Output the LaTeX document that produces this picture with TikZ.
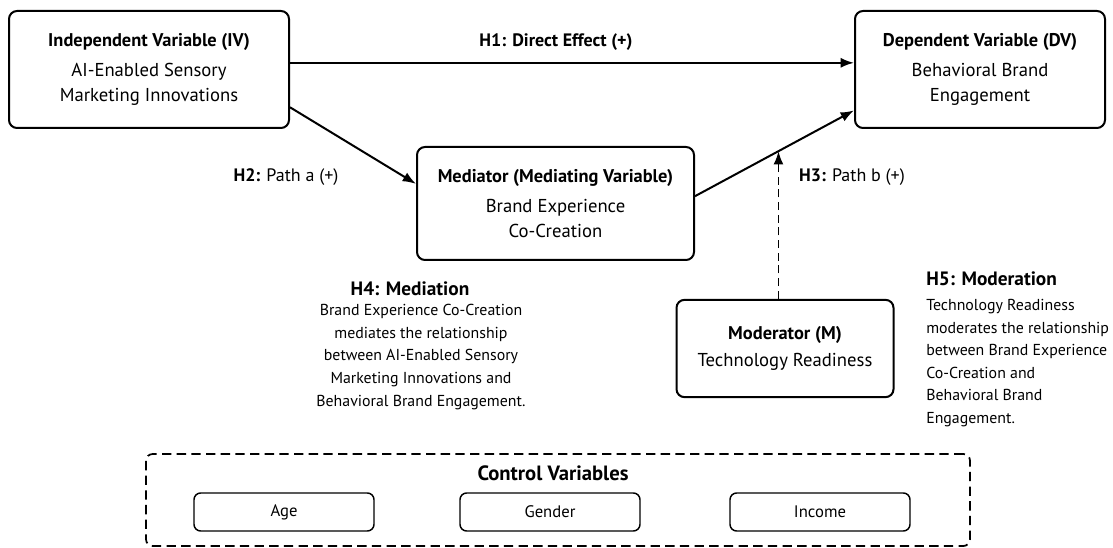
\documentclass[tikz,border=0pt]{standalone}
\usepackage{fontspec}
\setmainfont{PT Sans}
\usepackage{tikz}
\usetikzlibrary{arrows.meta}
\usepackage{xcolor}

\begin{document}
\begin{tikzpicture}[x=0.75pt,y=-0.75pt,
    var/.style={draw,line width=1.5pt,rounded corners=6pt,align=center,inner sep=0pt,
        font=\fontsize{14}{18.75}\selectfont},
    ctrl/.style={draw,line width=1.1pt,rounded corners=5pt,minimum width=135pt,minimum height=28.5pt,
        inner sep=0pt,font=\fontsize{12.5}{14}\selectfont},
    hlab/.style={font=\fontsize{13.5}{16}\selectfont},
    note/.style={font=\fontsize{11.9}{16.9}\selectfont,inner sep=0pt},
    path/.style={-{Latex[length=10pt,width=7.5pt]},line width=1.5pt}]

    \useasboundingbox (0,0) rectangle (1113,548);

    % constructs
    \node[var,minimum width=210pt,minimum height=87.75pt] (IV) at (149,69.5)
        {\fontsize{13.8}{16}\selectfont\bfseries Independent Variable (IV)\\[4pt] AI-Enabled Sensory\\ Marketing Innovations};
    \node[var,minimum width=187.5pt,minimum height=87.75pt] (DV) at (980,69.5)
        {\fontsize{13.8}{16}\selectfont\bfseries Dependent Variable (DV)\\[4pt] Behavioral Brand\\ Engagement};
    \node[var,minimum width=207.75pt,minimum height=84.75pt] (Me) at (555.5,203.5)
        {\fontsize{13.8}{16}\selectfont\bfseries Mediator (Mediating Variable)\\[4pt] Brand Experience\\ Co-Creation};
    \node[var,minimum width=162.75pt,minimum height=73pt] (Mo) at (785,348.5)
        {\fontsize{13.8}{16}\selectfont\bfseries Moderator (M)\\[1pt] Technology Readiness};

    % control variables
    \node[draw,line width=1.3pt,dash pattern=on 7pt off 4pt,rounded corners=5pt,
        minimum width=618pt,minimum height=69pt] (CoVa) at (558,500) {};
    \node[font=\fontsize{15.5}{17}\selectfont\bfseries] (CoTi) at (553,473) {Control Variables};
    \node[ctrl] (Ag) at (284,512) {Age};
    \node[ctrl] (Ge) at (550,512) {Gender};
    \node[ctrl] (In) at (820,512) {Income};

    % hypotheses labels
    \node[hlab] (H1) at (556,42) {\bfseries H1: Direct Effect (+)};
    \node[hlab] (H2) at (286,177) {\bfseries H2: \mdseries Path a (+)};
    \node[hlab] (H3) at (852,177) {\bfseries H3: \mdseries Path b (+)};

    \node[font=\fontsize{14.5}{17}\selectfont\bfseries] (H4) at (410,289) {H4: Mediation};
    \node[note,align=center] (H4t) at (421,357) {Brand Experience Co-Creation\\ mediates the relationship\\
        between AI-Enabled Sensory\\ Marketing Innovations and\\ Behavioral Brand Engagement.};
    \node[font=\fontsize{14.5}{17}\selectfont\bfseries,anchor=west,inner sep=0pt] (H5) at (926,279) {H5: Moderation};
    \node[note,align=left,anchor=west] (H5t) at (926,363) {Technology Readiness\\ moderates the relationship\\
        between Brand Experience\\ Co-Creation and\\ Behavioral Brand\\ Engagement.};

    % paths
    \draw[path] ([yshift=5pt]IV.east) to ([yshift=5pt]DV.west);
    \draw[path] (IV.-15) to (Me.172);
    \draw[path] (Me.3) to coordinate[pos=0.525] (MoHit) (DV.198);
    \draw[path,line width=1.4pt,dash pattern=on 6pt off 3.5pt] (Mo.north -| MoHit) to (MoHit);

\end{tikzpicture}
\end{document}
